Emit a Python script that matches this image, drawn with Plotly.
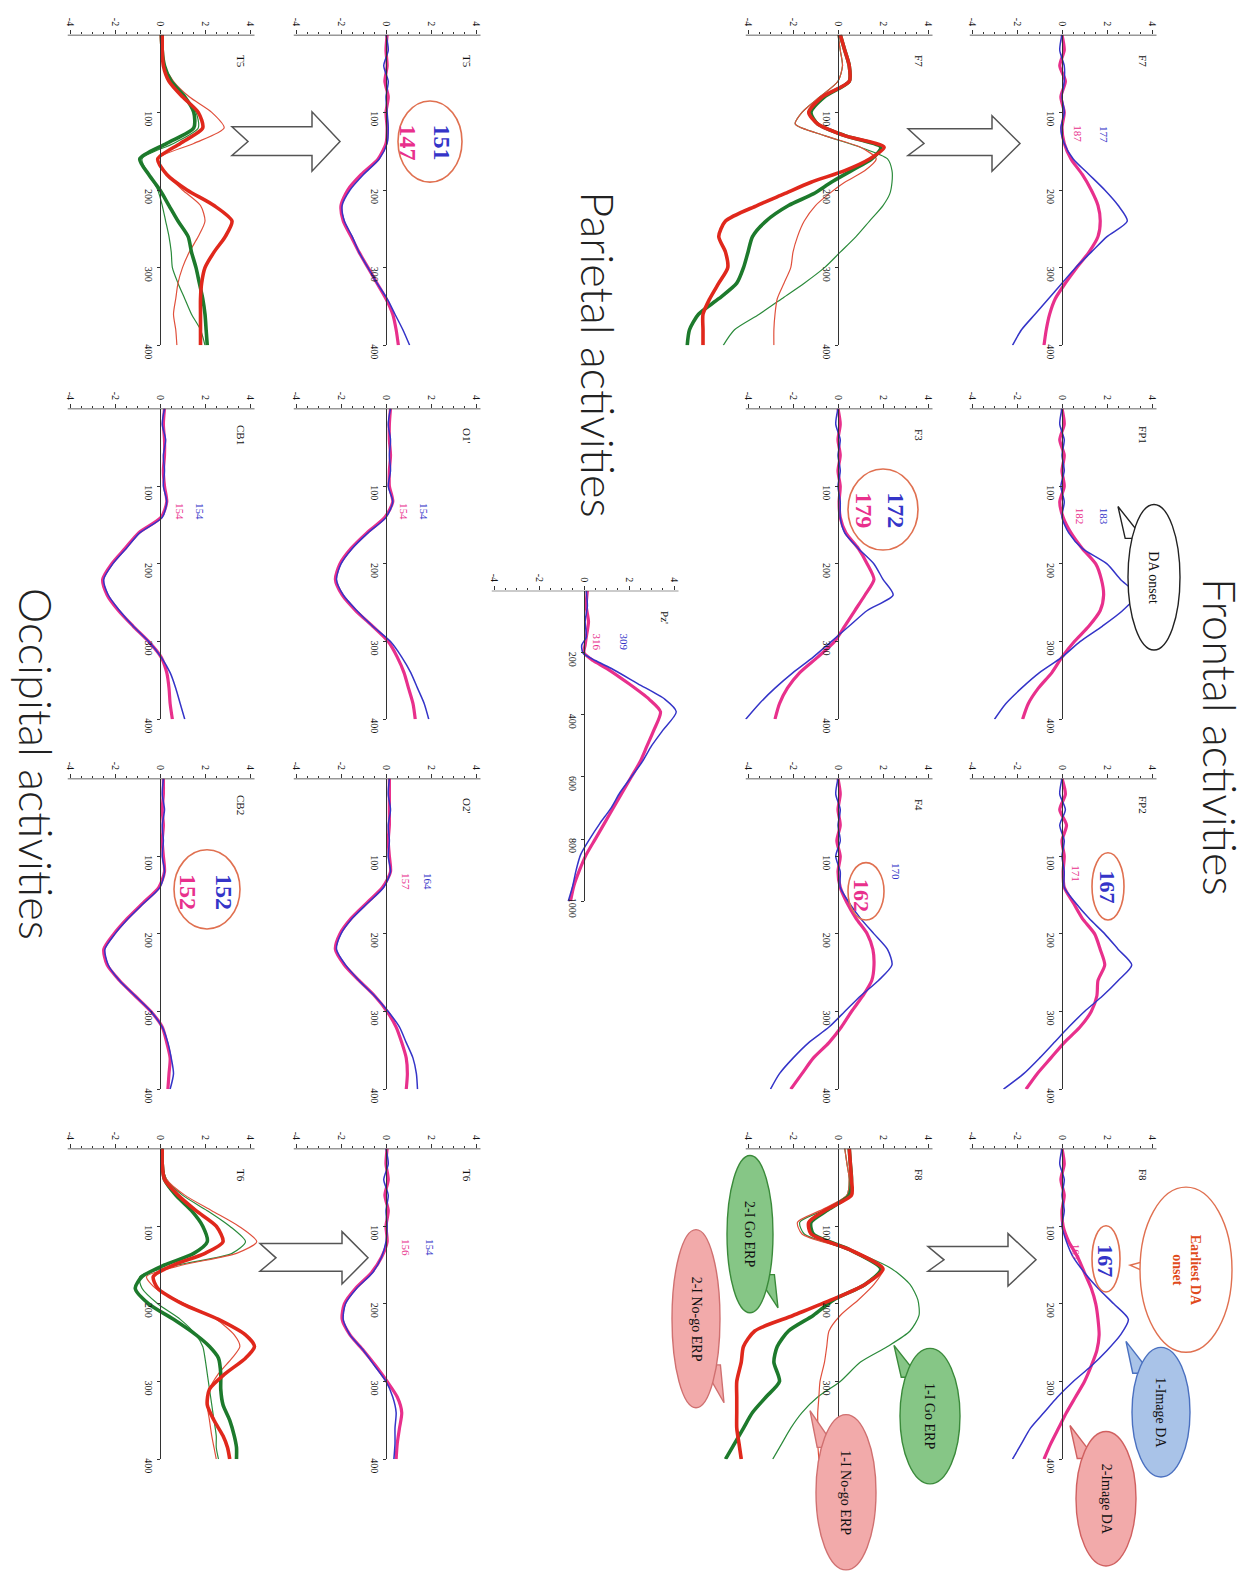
import plotly.graph_objects as go

# ---------------- page geometry (body margin 8px) ----------------
W, H, OFF = 1244, 1572, 8
PXU = 22.5      # pixels per amplitude unit
SPAN = 314      # pixels for the full time range of a panel

def fx(X):
    return (X - OFF) / W

def fy(Y):
    return 1 - (Y - OFF) / H

# column zero-line x (px) and row top y (px)
COL_ZERO = {"C1": 160, "C2": 386, "C3": 584, "C4": 838, "C5": 1062}
ROW_TOP = {"R1": 35, "R2": 413, "R3": 787, "R4": 1161, "RP": 597}

# ---------------- data ----------------
T20 = [0, 20, 40, 60, 80, 100, 120, 140, 160, 180, 200, 220, 240, 260, 280, 300, 320, 340, 360, 380, 400]

# T5 (ERP)
T5_RG_T = T20
T5_RG_RED_THICK = [0.1, 0.1, 0.15, 0.4, 1.0, 1.7, 1.9, 0.9, -0.1, 0.3, 1.2, 2.4, 3.2, 2.9, 2.4, 2.0, 1.85, 1.8, 1.8, 1.8, 1.8]
T5_RG_RED_THIN = [0.0, 0.05, 0.2, 0.6, 1.3, 2.3, 2.85, 1.5, -0.1, 0.3, 1.0, 1.8, 2.0, 1.7, 1.3, 1.0, 0.8, 0.7, 0.6, 0.7, 0.75]
T5_RG_GREEN_THICK = [0.1, 0.1, 0.2, 0.5, 1.1, 1.5, 1.5, 0.3, -0.9, -0.5, 0.0, 0.4, 0.8, 1.25, 1.4, 1.6, 1.75, 1.9, 2.0, 2.05, 2.1]
T5_RG_GREEN_THIN = [0.0, 0.05, 0.2, 0.5, 1.1, 1.6, 1.7, 0.6, -0.8, -0.5, -0.1, 0.1, 0.25, 0.4, 0.5, 0.55, 0.8, 1.1, 1.4, 1.8, 2.0]
# T5 (DA)
T5_BM_BLUE = [0.0, 0.1, -0.1, 0.1, 0.0, 0.05, 0.1, 0.05, -0.3, -1.0, -1.6, -1.95, -1.85, -1.5, -1.2, -0.8, -0.4, 0.05, 0.4, 0.75, 1.05]
T5_BM_MAG = [0.05, 0.0, 0.05, -0.05, 0.1, 0.0, 0.05, 0.0, -0.35, -1.1, -1.7, -2.0, -1.9, -1.55, -1.2, -0.8, -0.4, 0.0, 0.3, 0.45, 0.55]

# F7 (ERP)
F7_RG_T = [0, 20, 40, 60, 80, 100, 115, 130, 145, 160, 175, 190, 205, 220, 240, 260, 280, 300, 320, 340, 360, 380, 400]
F7_RG_RED_THICK = [0.1, 0.3, 0.5, 0.5, -0.7, -1.3, -0.9, 0.3, 2.05, 1.4, 0.3, -1.2, -2.4, -3.6, -5.0, -5.3, -5.0, -4.9, -5.3, -5.7, -6.0, -6.0, -6.0]
F7_RG_RED_THIN = [0.0, 0.1, 0.2, 0.0, -0.8, -1.6, -1.9, -0.6, 1.0, 1.7, 1.2, 0.3, -0.4, -1.0, -1.5, -1.8, -2.0, -2.1, -2.4, -2.7, -2.8, -2.85, -2.85]
F7_RG_GREEN_THICK = [0.1, 0.3, 0.5, 0.5, -0.6, -1.2, -0.9, 0.3, 1.9, 1.5, 0.6, -0.3, -1.1, -2.2, -3.2, -3.8, -4.0, -4.2, -4.5, -5.3, -6.2, -6.6, -6.7]
F7_RG_GREEN_THIN = [0.0, 0.1, 0.2, 0.0, -0.8, -1.6, -1.9, -0.6, 1.0, 2.2, 2.4, 2.4, 2.3, 2.0, 1.4, 0.8, 0.1, -0.6, -1.5, -2.5, -3.5, -4.6, -5.1]
# F7 (DA)
F7_BM_BLUE = [0.0, -0.1, 0.1, 0.1, 0.0, 0.1, -0.05, 0.1, 0.5, 1.2, 1.9, 2.5, 2.9, 2.0, 1.3, 0.6, 0.0, -0.6, -1.2, -1.8, -2.2]
F7_BM_MAG = [0.0, 0.1, -0.1, 0.15, -0.05, 0.1, 0.0, 0.1, 0.4, 0.9, 1.3, 1.6, 1.7, 1.6, 1.2, 0.65, 0.15, -0.3, -0.55, -0.7, -0.8]

# FP1, F3
FP1_BLUE = [0.0, -0.1, 0.1, 0.0, 0.1, -0.05, 0.1, 0.0, 0.3, 0.9, 2.0, 2.6, 3.3, 2.7, 1.8, 0.8, 0.0, -1.0, -1.8, -2.5, -3.0]
FP1_MAG = [0.0, 0.1, -0.1, 0.1, 0.0, 0.1, -0.1, 0.05, 0.4, 0.9, 1.5, 1.75, 1.85, 1.7, 1.2, 0.55, 0.0, -0.45, -1.05, -1.5, -1.75]
F3_BLUE = [0.0, -0.1, 0.1, 0.0, 0.1, 0.0, 0.1, 0.1, 0.3, 0.9, 1.6, 2.0, 2.45, 1.3, 0.5, -0.3, -1.1, -2.0, -2.8, -3.5, -4.1]
F3_MAG = [0.0, 0.1, 0.0, 0.1, 0.0, 0.1, 0.05, 0.1, 0.35, 0.9, 1.3, 1.6, 1.2, 0.75, 0.3, -0.15, -0.9, -1.7, -2.25, -2.6, -2.8]

# FP2, F4
FP2_BLUE = [0.0, -0.1, 0.15, -0.1, 0.1, 0.0, 0.1, 0.1, 0.6, 1.2, 1.9, 2.5, 3.1, 2.5, 1.8, 1.0, 0.3, -0.35, -1.0, -1.7, -2.6]
FP2_MAG = [0.0, 0.15, -0.1, 0.2, 0.0, 0.1, 0.05, 0.1, 0.5, 0.9, 1.45, 1.7, 1.9, 1.6, 1.55, 1.3, 0.8, 0.1, -0.5, -1.1, -1.6]
F4_BLUE = [0.0, -0.1, 0.1, 0.0, 0.1, -0.1, 0.1, 0.1, 0.5, 1.0, 1.6, 2.2, 2.4, 1.8, 1.0, 0.3, -0.4, -1.3, -2.0, -2.6, -3.0]
F4_MAG = [0.0, 0.1, 0.0, 0.1, -0.05, 0.1, 0.0, 0.1, 0.4, 0.8, 1.3, 1.55, 1.6, 1.5, 1.1, 0.6, 0.15, -0.4, -1.1, -1.6, -2.1]

# F8 (ERP)
F8_RG_T = [0, 20, 40, 60, 80, 95, 110, 130, 155, 175, 195, 215, 235, 255, 275, 300, 320, 340, 360, 380, 400]
F8_RG_RED_THICK = [0.5, 0.55, 0.6, 0.6, -0.6, -1.3, -1.2, 0.5, 2.0, 1.2, -0.3, -2.0, -3.7, -4.2, -4.3, -4.5, -4.5, -4.5, -4.5, -4.4, -4.3]
F8_RG_RED_THIN = [0.3, 0.4, 0.5, 0.4, -0.8, -1.8, -1.6, 0.4, 2.0, 1.6, 0.9, 0.1, -0.4, -0.5, -0.6, -0.8, -0.85, -0.9, -0.9, -0.9, -0.85]
F8_RG_GREEN_THICK = [0.5, 0.55, 0.6, 0.5, -0.5, -1.2, -1.1, 0.5, 1.9, 1.2, -0.2, -1.1, -2.2, -2.7, -2.85, -2.6, -3.2, -3.8, -4.2, -4.6, -5.0]
F8_RG_GREEN_THIN = [0.3, 0.4, 0.5, 0.4, -0.7, -1.7, -1.5, 0.5, 2.4, 3.2, 3.55, 3.6, 3.2, 2.2, 1.0, 0.1, -0.9, -1.6, -2.1, -2.5, -2.9]
# F8 (DA)
F8_BM_BLUE = [0.0, -0.1, 0.1, 0.0, 0.1, 0.0, 0.2, 0.5, 1.0, 1.6, 2.3, 2.95, 2.6, 2.0, 1.3, 0.5, -0.2, -0.8, -1.4, -1.8, -2.2]
F8_BM_MAG = [0.0, 0.1, -0.05, 0.1, 0.0, 0.05, 0.3, 0.7, 1.0, 1.3, 1.5, 1.6, 1.65, 1.55, 1.3, 1.0, 0.6, 0.2, -0.15, -0.5, -0.8]

# T6 (ERP)
T6_RG_T = [0, 20, 40, 60, 80, 100, 120, 135, 150, 165, 180, 200, 220, 240, 255, 270, 290, 310, 330, 350, 370, 385, 400]
T6_RG_RED_THICK = [0.1, 0.1, 0.2, 0.8, 1.6, 2.5, 2.8, 2.0, 0.6, -0.3, -0.1, 1.0, 2.6, 3.8, 4.2, 3.8, 2.9, 2.2, 2.1, 2.4, 2.8, 3.0, 3.1]
T6_RG_RED_THIN = [0.1, 0.1, 0.3, 1.1, 2.3, 3.5, 4.3, 3.4, 1.0, -0.6, -0.2, 1.1, 2.5, 3.3, 3.55, 3.2, 2.6, 2.2, 2.1, 2.2, 2.3, 2.4, 2.5]
T6_RG_GREEN_THICK = [0.1, 0.1, 0.2, 0.7, 1.4, 1.9, 2.1, 1.5, 0.2, -0.8, -1.1, -0.5, 0.6, 1.6, 2.2, 2.6, 2.7, 2.7, 2.8, 3.1, 3.3, 3.4, 3.4]
T6_RG_GREEN_THIN = [0.1, 0.1, 0.3, 1.0, 2.1, 3.1, 3.8, 3.2, 0.8, -0.9, -0.8, -0.1, 0.9, 1.6, 1.9, 2.0, 2.1, 2.2, 2.3, 2.4, 2.5, 2.5, 2.6]
# T6 (DA)
T6_BM_BLUE = [0.0, 0.1, -0.1, 0.1, 0.0, 0.05, 0.0, -0.2, -0.6, -1.3, -1.8, -1.9, -1.6, -1.0, -0.5, 0.0, 0.3, 0.45, 0.4, 0.4, 0.35]
T6_BM_MAG = [0.05, 0.0, 0.1, -0.05, 0.1, 0.0, 0.05, -0.2, -0.65, -1.35, -1.85, -1.95, -1.6, -1.0, -0.45, 0.05, 0.5, 0.7, 0.6, 0.5, 0.45]

# Occipital DA
CB1_BLUE = [0.2, 0.1, 0.25, 0.15, 0.2, 0.15, 0.3, 0.1, -0.9, -1.5, -2.1, -2.5, -2.3, -1.8, -1.2, -0.5, 0.05, 0.45, 0.7, 0.9, 1.1]
CB1_MAG = [0.2, 0.15, 0.2, 0.2, 0.15, 0.2, 0.3, 0.05, -0.95, -1.55, -2.15, -2.55, -2.35, -1.85, -1.2, -0.5, 0.05, 0.3, 0.4, 0.45, 0.55]
O1_BLUE = [0.2, 0.1, 0.2, 0.15, 0.2, 0.1, 0.3, 0.0, -0.8, -1.5, -2.0, -2.2, -1.9, -1.3, -0.6, 0.2, 0.7, 1.1, 1.4, 1.7, 1.9]
O1_MAG = [0.2, 0.15, 0.15, 0.2, 0.15, 0.15, 0.3, -0.05, -0.85, -1.55, -2.05, -2.25, -1.95, -1.35, -0.6, 0.1, 0.5, 0.8, 1.0, 1.2, 1.3]
CB2_BLUE = [0.15, 0.1, 0.2, 0.1, 0.15, 0.1, 0.2, 0.0, -0.7, -1.4, -2.0, -2.45, -2.3, -1.8, -1.1, -0.4, 0.1, 0.35, 0.5, 0.6, 0.45]
CB2_MAG = [0.15, 0.15, 0.1, 0.15, 0.1, 0.15, 0.2, -0.05, -0.75, -1.45, -2.05, -2.5, -2.35, -1.8, -1.1, -0.4, 0.1, 0.3, 0.45, 0.4, 0.35]
O2_BLUE = [0.15, 0.1, 0.2, 0.1, 0.15, 0.1, 0.2, -0.1, -0.8, -1.5, -2.0, -2.2, -1.8, -1.2, -0.5, 0.1, 0.6, 0.9, 1.2, 1.35, 1.4]
O2_MAG = [0.15, 0.15, 0.15, 0.15, 0.1, 0.15, 0.2, -0.15, -0.85, -1.55, -2.05, -2.25, -1.85, -1.2, -0.5, 0.05, 0.45, 0.7, 0.9, 0.95, 0.9]

# Pz' (0-1000 ms)
PZ_T = [0, 50, 100, 150, 175, 200, 225, 250, 300, 350, 390, 450, 500, 550, 600, 650, 700, 750, 800, 850, 900, 950, 1000]
PZ_BLUE = [0.1, 0.15, 0.05, 0.1, -0.1, -0.05, 0.5, 1.2, 2.4, 3.6, 4.1, 3.5, 3.0, 2.6, 2.1, 1.6, 1.2, 0.7, 0.25, -0.15, -0.35, -0.5, -0.7]
PZ_MAG = [0.15, 0.1, 0.2, 0.1, 0.05, 0.0, 0.4, 1.0, 2.0, 2.9, 3.4, 3.1, 2.8, 2.5, 2.1, 1.7, 1.3, 0.9, 0.5, 0.1, -0.2, -0.45, -0.6]

AMP_TICKS = [-4, -2, 0, 2, 4]
AMP_MINOR = [-3.5, -3, -2.5, -1.5, -1, -0.5, 0.5, 1, 1.5, 2.5, 3, 3.5]
TIME_TICKS_400 = [100, 200, 300, 400]
TIME_TICKS_1000 = [200, 400, 600, 800, 1000]

# ---------------- styles ----------------
RED = "#e0281c"
GREEN = "#1d7a2c"
BLUE = "#3434c8"
MAG = "#e8308c"
STY = {
    "red_thick": dict(color=RED, width=3.6),
    "red_thin": dict(color="#e0503c", width=1.2),
    "green_thick": dict(color=GREEN, width=3.6),
    "green_thin": dict(color="#2a8a3a", width=1.2),
    "blue": dict(color=BLUE, width=1.5),
    "mag": dict(color=MAG, width=3.2),
}

def erp(t, gthin, rthin, gthick, rthick):
    return [(t, gthin, "green_thin"), (t, rthin, "red_thin"), (t, gthick, "green_thick"), (t, rthick, "red_thick")]

def da(t, mag, blue):
    return [(t, mag, "mag"), (t, blue, "blue")]

PANELS = [
    ("T5", "C1", "R1", 400, -6.0, erp(T5_RG_T, T5_RG_GREEN_THIN, T5_RG_RED_THIN, T5_RG_GREEN_THICK, T5_RG_RED_THICK)),
    ("T5", "C2", "R1", 400, -7.0, da(T20, T5_BM_MAG, T5_BM_BLUE)),
    ("F7", "C4", "R1", 400, -7.2, erp(F7_RG_T, F7_RG_GREEN_THIN, F7_RG_RED_THIN, F7_RG_GREEN_THICK, F7_RG_RED_THICK)),
    ("F7", "C5", "R1", 400, -7.0, da(T20, F7_BM_MAG, F7_BM_BLUE)),
    ("CB1", "C1", "R2", 400, -6.0, da(T20, CB1_MAG, CB1_BLUE)),
    ("O1'", "C2", "R2", 400, -7.0, da(T20, O1_MAG, O1_BLUE)),
    ("F3", "C4", "R2", 400, -7.0, da(T20, F3_MAG, F3_BLUE)),
    ("FP1", "C5", "R2", 400, -7.0, da(T20, FP1_MAG, FP1_BLUE)),
    ("Pz'", "C3", "RP", 1000, -7.0, da(PZ_T, PZ_MAG, PZ_BLUE)),
    ("CB2", "C1", "R3", 400, -6.0, da(T20, CB2_MAG, CB2_BLUE)),
    ("O2'", "C2", "R3", 400, -7.0, da(T20, O2_MAG, O2_BLUE)),
    ("F4", "C4", "R3", 400, -7.0, da(T20, F4_MAG, F4_BLUE)),
    ("FP2", "C5", "R3", 400, -7.0, da(T20, FP2_MAG, FP2_BLUE)),
    ("T6", "C1", "R4", 400, -6.0, erp(T6_RG_T, T6_RG_GREEN_THIN, T6_RG_RED_THIN, T6_RG_GREEN_THICK, T6_RG_RED_THICK)),
    ("T6", "C2", "R4", 400, -7.0, da(T20, T6_BM_MAG, T6_BM_BLUE)),
    ("F8", "C4", "R4", 400, -7.2, erp(F8_RG_T, F8_RG_GREEN_THIN, F8_RG_RED_THIN, F8_RG_GREEN_THICK, F8_RG_RED_THICK)),
    ("F8", "C5", "R4", 400, -7.0, da(T20, F8_BM_MAG, F8_BM_BLUE)),
]
X_HI = 5.6

# onset numbers: (panel index, text, amplitude, time, colour, size, bold)
NUMBERS = [
    (1, "151", 2.5, 139, BLUE, 24, True), (1, "147", 0.98, 139, MAG, 24, True),
    (3, "177", 1.87, 128, BLUE, 11, False), (3, "187", 0.71, 128, MAG, 11, False),
    (4, "154", 1.78, 132, BLUE, 11, False), (4, "154", 0.89, 132, MAG, 11, False),
    (5, "154", 1.69, 132, BLUE, 11, False), (5, "154", 0.8, 132, MAG, 11, False),
    (6, "172", 2.58, 131, BLUE, 24, True), (6, "179", 1.16, 131, MAG, 24, True),
    (7, "183", 1.87, 138, BLUE, 11, False), (7, "182", 0.8, 138, MAG, 11, False),
    (8, "309", 1.8, 165, BLUE, 11, False), (8, "316", 0.6, 165, MAG, 11, False),
    (9, "152", 2.84, 146, BLUE, 24, True), (9, "152", 1.24, 146, MAG, 24, True),
    (10, "164", 1.87, 132, BLUE, 11, False), (10, "157", 0.89, 132, MAG, 11, False),
    (11, "170", 2.58, 119, BLUE, 11, False), (11, "162", 1.07, 150, MAG, 22, True),
    (12, "167", 2.04, 140, BLUE, 22, True), (12, "171", 0.62, 123, MAG, 11, False),
    (14, "154", 1.96, 127, BLUE, 11, False), (14, "156", 0.89, 127, MAG, 11, False),
    (16, "167", 1.96, 144, BLUE, 22, True), (16, "167", 0.62, 134, MAG, 11, False),
]
# red circles round onset numbers (pixel boxes: x0, x1, y0, y1)
CIRCLES = [(398, 462, 102, 184), (848, 918, 474, 556), (174, 240, 859, 939),
           (848, 884, 872, 930), (1092, 1124, 862, 930), (1092, 1120, 1239, 1306)]
# block arrows: tail x, notch x, head-start x, tip x, shaft y0, y1, head y0, y1
ARROWS = [(232, 248, 312, 340, 128, 157, 113, 173),
          (908, 924, 992, 1020, 130, 157, 117, 173),
          (260, 276, 342, 368, 1257, 1285, 1245, 1298),
          (928, 944, 1008, 1036, 1260, 1285, 1247, 1300)]
# callouts: text, x0, x1, y0, y1, tail tip (x, y), fill, line, text colour
CALLOUTS = [
    ("DA onset", 1128, 1180, 510, 657, (1118, 512), "white", "#222222", "#111111"),
    ("Earliest DA<br>onset", 1140, 1232, 1200, 1367, (1130, 1279), "white", "#e07050", "#e04a1a"),
    ("1-Image DA", 1132, 1190, 1362, 1493, (1126, 1356), "#a9c3e8", "#4a70c0", "#111111"),
    ("2-Image DA", 1076, 1136, 1447, 1583, (1070, 1441), "#f2aaaa", "#d06060", "#111111"),
    ("2-I Go ERP", 727, 773, 1168, 1327, (778, 1322), "#86c686", "#3a8a3a", "#111111"),
    ("2-I No-go ERP", 672, 720, 1243, 1423, (724, 1418), "#f2aaaa", "#d07070", "#111111"),
    ("1-I Go ERP", 900, 960, 1363, 1500, (894, 1360), "#86c686", "#3a8a3a", "#111111"),
    ("1-I No-go ERP", 816, 876, 1430, 1587, (810, 1426), "#f2aaaa", "#d07070", "#111111"),
]
TITLES = [("Frontal activities", 1220, 745), ("Parietal activities", 598, 358), ("Occipital activities", 36, 772)]

# ---------------- build ----------------
fig = go.Figure()
layout = {}
shapes = []
annotations = []
SERIF = "Liberation Serif"

for i, (name, col, row, tmax, xlo, curves) in enumerate(PANELS):
    n = i + 1
    sx = "" if n == 1 else str(n)
    zero = COL_ZERO[col]
    top = ROW_TOP[row]
    for t, v, key in curves:
        fig.add_trace(go.Scatter(x=v, y=t, mode="lines", xaxis="x" + sx, yaxis="y" + sx,
                                 line=dict(shape="spline", smoothing=0.7, **STY[key]),
                                 hoverinfo="skip", showlegend=False))
    layout["xaxis" + sx] = dict(
        domain=[fx(zero + xlo * PXU), fx(zero + X_HI * PXU)], range=[xlo, X_HI],
        anchor="y" + sx, side="top", showgrid=False, zeroline=False, showline=False,
        tickmode="array", tickvals=AMP_TICKS, ticktext=[str(v) for v in AMP_TICKS],
        ticks="outside", ticklen=4, tickwidth=1, tickcolor="#333",
        minor=dict(tickmode="array", tickvals=AMP_MINOR, ticks="outside", ticklen=2, tickcolor="#333"),
        tickangle=90, tickfont=dict(family=SERIF, size=10, color="#111"))
    layout["yaxis" + sx] = dict(
        domain=[fy(top + SPAN), fy(top)], range=[tmax, 0], anchor="free", position=fx(zero),
        side="left", showgrid=False, zeroline=False, showline=True, linecolor="#333", linewidth=1.4,
        tickmode="array", tickvals=TIME_TICKS_400 if tmax == 400 else TIME_TICKS_1000,
        ticks="outside", ticklen=3, tickcolor="#333", tickangle=90, ticklabelshift=-8,
        tickfont=dict(family=SERIF, size=10, color="#111"))
    shapes.append(dict(type="line", xref="x" + sx, yref="y" + sx, x0=-4.1, x1=4.2, y0=0, y1=0,
                       line=dict(color="#333", width=1.4)))
    annotations.append(dict(xref="x" + sx, yref="y" + sx, x=3.6, y=tmax * 0.085, text=name,
                            showarrow=False, textangle=90, xanchor="center", yanchor="middle",
                            font=dict(family=SERIF, size=11, color="#111")))

for (pi, txt, a, t, color, size, bold) in NUMBERS:
    sx = "" if pi == 0 else str(pi + 1)
    annotations.append(dict(xref="x" + sx, yref="y" + sx, x=a, y=t,
                            text=("<b>%s</b>" % txt) if bold else txt, showarrow=False, textangle=90,
                            xanchor="center", yanchor="middle",
                            font=dict(family=SERIF, size=size, color=color)))

for (x0, x1, y0, y1) in CIRCLES:
    shapes.append(dict(type="circle", xref="paper", yref="paper", x0=fx(x0), x1=fx(x1),
                       y0=fy(y1), y1=fy(y0), line=dict(color="#e07050", width=1.6)))

def path(points):
    return "M " + " L ".join("%.5f,%.5f" % (fx(X), fy(Y)) for X, Y in points) + " Z"

for (xt, xn, xh, xp, s0, s1, h0, h1) in ARROWS:
    yc = (h0 + h1) / 2
    pts = [(xt, s0), (xh, s0), (xh, h0), (xp, yc), (xh, h1), (xh, s1), (xt, s1), (xn, yc)]
    shapes.append(dict(type="path", xref="paper", yref="paper", path=path(pts),
                       fillcolor="white", line=dict(color="#555", width=1.5)))

for (txt, x0, x1, y0, y1, tip, fill, lc, tc) in CALLOUTS:
    cx, cy = (x0 + x1) / 2, (y0 + y1) / 2
    dx, dy = tip[0] - cx, tip[1] - cy
    bx = cx + dx * 0.55
    by = cy + dy * 0.55
    w = 9
    if abs(dx) > abs(dy):
        base = [(bx, by - w), (bx, by + w)]
    else:
        base = [(bx - w, by), (bx + w, by)]
    shapes.append(dict(type="path", xref="paper", yref="paper", path=path([base[0], tip, base[1]]),
                       fillcolor=fill, line=dict(color=lc, width=1.4)))
    shapes.append(dict(type="circle", xref="paper", yref="paper", x0=fx(x0), x1=fx(x1),
                       y0=fy(y1), y1=fy(y0), fillcolor=fill, line=dict(color=lc, width=1.4)))
    bold = "Earliest" in txt
    annotations.append(dict(xref="paper", yref="paper", x=fx(cx), y=fy(cy), showarrow=False,
                            text="<b>%s</b>" % txt if bold else txt, textangle=90,
                            xanchor="center", yanchor="middle",
                            font=dict(family=SERIF, size=14, color=tc)))

for (txt, X, Y) in TITLES:
    annotations.append(dict(xref="paper", yref="paper", x=fx(X), y=fy(Y), showarrow=False,
                            text=txt, textangle=90, xanchor="center", yanchor="middle",
                            font=dict(family="Lato", size=45, color="#222", weight=300)))

fig.update_layout(width=W, height=H, margin=dict(l=0, r=0, t=0, b=0),
                  paper_bgcolor="white", plot_bgcolor="rgba(0,0,0,0)",
                  showlegend=False, shapes=shapes, annotations=annotations, **layout)
fig.write_html("out.html")
